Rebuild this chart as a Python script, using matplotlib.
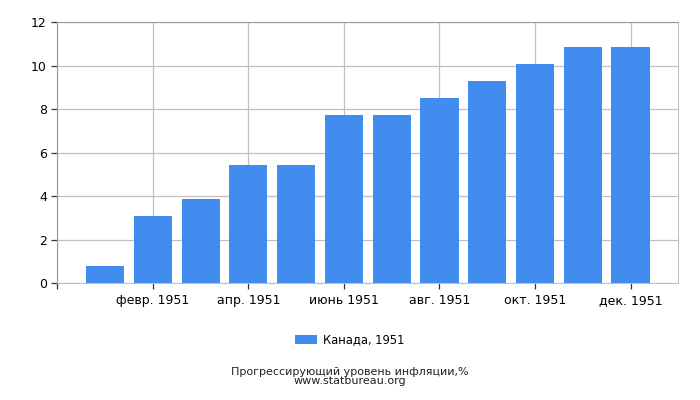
import numpy as np
import matplotlib.pyplot as plt

months = ['янв. 1951', 'февр. 1951', 'март 1951', 'апр. 1951', 'май 1951', 'июнь 1951',
          'июль 1951', 'авг. 1951', 'сент. 1951', 'окт. 1951', 'нояб. 1951', 'дек. 1951']
inflation = [0.80, 3.10, 3.88, 5.44, 5.44, 7.74, 7.74, 8.52, 9.30, 10.08, 10.87, 10.87]
series_name = 'Канада, 1951'
caption = 'Прогрессирующий уровень инфляции,%\nwww.statbureau.org'

bar_color = '#428bef'
grid_color = '#c0c0c0'

fig = plt.figure(figsize=(7, 4), dpi=100)
ax = fig.add_axes([57.3 / 700, 1 - 283.3 / 400, 621 / 700, 261 / 400])

x = np.arange(len(months))
ax.bar(x, inflation, width=0.8, color=bar_color, label=series_name, zorder=2)

ax.set_xlim(-1, 12)
ax.set_ylim(0, 12)
ax.set_yticks(np.arange(0, 13, 2))

tick_pos = [-1] + list(x[1::2])
tick_lab = [''] + months[1::2]
ax.set_xticks(tick_pos)
ax.set_xticklabels(tick_lab)

ax.grid(True, color=grid_color, linewidth=0.9, zorder=0)
ax.set_axisbelow(True)
for side in ['right', 'bottom']:
    ax.spines[side].set_color(grid_color)
ax.spines['top'].set_color('#999999')
ax.spines['left'].set_color('#999999')
ax.tick_params(axis='both', colors='#333333', labelcolor='#000000', labelsize=9,
               length=4, width=0.9)
ax.tick_params(axis='x', pad=4)

fig.legend(loc='center', bbox_to_anchor=(0.5, 1 - 340 / 400), frameon=False,
           fontsize=8.3, handlelength=1.9, handleheight=0.8, handletextpad=0.5)
fig.text(0.5, 1 - 376.5 / 400, caption, ha='center', va='center', fontsize=8,
         linespacing=0.95, color='#222222')

fig.savefig('out.png', dpi=100)
